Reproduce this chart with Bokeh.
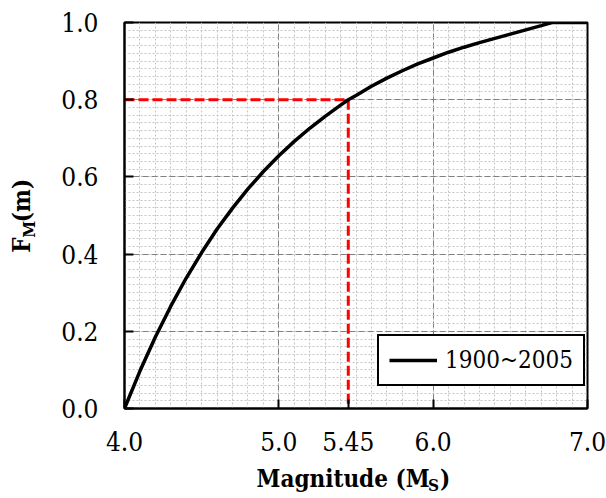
from bokeh.plotting import figure
from bokeh.models import (ColumnDataSource, FixedTicker, Range1d, Legend,
                          LegendItem, PrintfTickFormatter, Grid, LinearAxis)
from bokeh.embed import file_html
from bokeh.resources import INLINE

# ---- data ----
magnitude = [4.0, 4.1, 4.2, 4.3, 4.4, 4.5, 4.6, 4.7, 4.8, 4.9, 5.0, 5.1, 5.2, 5.3,
             5.4, 5.45, 5.5, 5.6, 5.7, 5.8, 5.9, 6.0, 6.1, 6.2, 6.3, 6.4, 6.5, 6.6,
             6.7, 6.77, 6.8, 6.9, 7.0]
cdf = [0.000, 0.097, 0.185, 0.265, 0.338, 0.404, 0.465, 0.519, 0.569, 0.614, 0.655,
       0.692, 0.726, 0.757, 0.786, 0.800, 0.811, 0.835, 0.856, 0.875, 0.893, 0.908,
       0.923, 0.936, 0.948, 0.959, 0.970, 0.981, 0.992, 1.000, 1.000, 1.000, 1.000]
series_name = "1900~2005"

ref_m = 5.45
ref_f = 0.8

x_tick_values = [4.0, 5.0, 5.45, 6.0, 7.0]
x_tick_labels = ["4.0", "5.0", "5.45", "6.0", "7.0"]
x_grid_values = [4.0, 5.0, 6.0, 7.0]
y_tick_values = [0.0, 0.2, 0.4, 0.6, 0.8, 1.0]

x_title_main = ["Magnitude (M", ")"]
x_title_sub = "S"
y_title_main = ["F", "(m)"]
y_title_sub = "M"

SERIF = "DejaVu Serif Condensed, DejaVu Serif"

p = figure(width=606, height=498, output_backend="svg", toolbar_location=None,
           x_range=Range1d(4.0, 7.0), y_range=Range1d(0.0, 1.0),
           min_border_left=124, min_border_right=19, min_border_top=22,
           min_border_bottom=90)
p.background_fill_color = "white"
p.border_fill_color = "white"
p.outline_line_color = "black"
p.outline_line_width = 2

# grids
p.xgrid.visible = False
p.ygrid.visible = False
x_minor = [round(4.0 + 0.1 * i, 2) for i in range(31)]
y_minor = [round(0.02 * i, 2) for i in range(51)]
xg = Grid(dimension=0, ticker=FixedTicker(ticks=x_grid_values, minor_ticks=x_minor),
          grid_line_color="#808080", grid_line_dash="6 3", grid_line_width=1,
          minor_grid_line_color="#c4c4c4", minor_grid_line_dash="2 2",
          minor_grid_line_width=1)
yg = Grid(dimension=1, ticker=FixedTicker(ticks=y_tick_values, minor_ticks=y_minor),
          grid_line_color="#808080", grid_line_dash="6 3", grid_line_width=1,
          minor_grid_line_color="#c4c4c4", minor_grid_line_dash="2 2",
          minor_grid_line_width=1)
p.add_layout(xg, "center")
p.add_layout(yg, "center")

# axes
p.xaxis.ticker = FixedTicker(ticks=x_tick_values)
p.xaxis.major_label_overrides = {v: l for v, l in zip(x_tick_values, x_tick_labels)}
p.yaxis.ticker = FixedTicker(ticks=y_tick_values)
p.yaxis.formatter = PrintfTickFormatter(format="%.1f")
for ax in (p.xaxis, p.yaxis):
    ax.major_tick_in = 9
    ax.major_tick_out = 0
    ax.minor_tick_in = 0
    ax.minor_tick_out = 0
    ax.major_tick_line_color = "black"
    ax.major_tick_line_width = 2
    ax.axis_line_color = "black"
    ax.axis_line_width = 2
    ax.major_label_text_font = SERIF
    ax.major_label_text_font_size = "26px"
    ax.major_label_text_color = "black"
p.xaxis.major_label_standoff = 23
p.yaxis.major_label_standoff = 26


def title_axis(ticks, labels, size, standoff, orientation="horizontal"):
    ax = LinearAxis(ticker=FixedTicker(ticks=ticks),
                    major_label_overrides={t: l for t, l in zip(ticks, labels)},
                    major_tick_in=0, major_tick_out=0, minor_tick_in=0,
                    minor_tick_out=0, axis_line_color=None,
                    major_label_text_font=SERIF, major_label_text_font_style="bold",
                    major_label_text_font_size=size, major_label_text_color="black",
                    major_label_standoff=standoff,
                    major_label_orientation=orientation)
    return ax


# x title: "Magnitude (M" + subscript "S" + ")"
p.add_layout(title_axis([6.002], [x_title_sub], "17px", 21), "below")
p.add_layout(title_axis([5.416, 6.078], x_title_main, "24px", -34), "below")

# y title: "F" + subscript "M" + "(m)"  (rotated)
p.add_layout(title_axis([0.4642], [y_title_sub], "17px", 19, "vertical"), "left")
p.add_layout(title_axis([0.4231, 0.5389], y_title_main, "24px", -20, "vertical"), "left")

# reference lines
p.line([4.0, ref_m], [ref_f, ref_f], line_color="#ff0000", line_width=3, line_dash="10 4")
p.line([ref_m, ref_m], [ref_f, 0.0], line_color="#ff0000", line_width=3, line_dash="10 4")

src = ColumnDataSource(dict(m=magnitude, f=cdf))
r = p.line("m", "f", source=src, line_color="black", line_width=3.5)

legend = Legend(items=[LegendItem(label=series_name, renderers=[r])],
                location=(253, 22), padding=10, margin=0, glyph_width=48,
                glyph_height=26, label_height=26, label_standoff=8,
                label_text_font=SERIF, label_text_font_size="24px",
                label_text_color="black", border_line_color="black",
                border_line_alpha=1.0, border_line_width=2,
                background_fill_alpha=1.0, background_fill_color="white")
p.add_layout(legend, "center")

open("out.html", "w").write(file_html(p, INLINE))
